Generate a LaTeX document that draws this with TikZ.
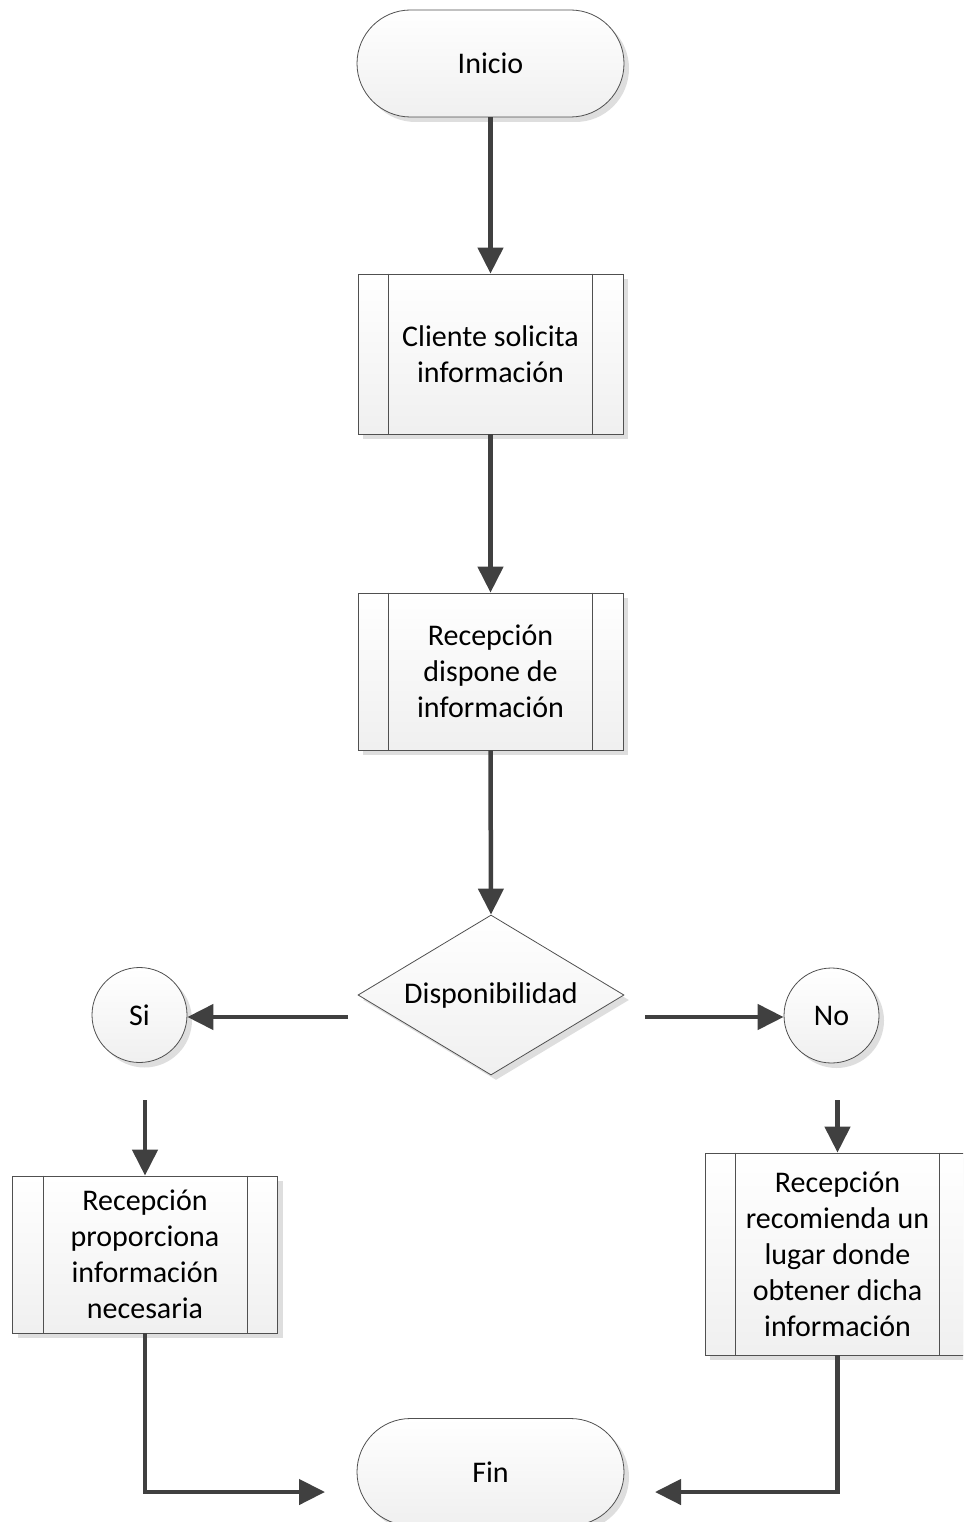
\documentclass[tikz,border=0pt]{standalone}
\usepackage{fontspec}
\setmainfont{Carlito}
\usetikzlibrary{arrows.meta,shapes.geometric,shapes.misc,shadows,calc}
\definecolor{linegray}{HTML}{404040}
\definecolor{edgegray}{HTML}{505050}
\tikzset{
  shapebase/.style={draw=edgegray, line width=0.8pt, top color=white, bottom color=black!6,
    drop shadow={shadow xshift=5pt, shadow yshift=-5pt, fill=black!13, opacity=1},
    font=\fontsize{30}{36}\selectfont, align=center, inner sep=0pt, text=black},
  terminal/.style={shapebase, rounded rectangle, minimum width=267pt, minimum height=107pt},
  procbox/.style={shapebase, rectangle, minimum width=265pt},
  decision/.style={shapebase, diamond, minimum width=266pt, minimum height=160pt, aspect=1.66},
  branch/.style={shapebase, circle, minimum size=95pt},
  bar/.style={draw=edgegray, line width=0.8pt},
  flow/.style={draw=linegray, line width=4.5pt, -{Triangle[length=26pt,width=25pt]}},
}
\begin{document}
\begin{tikzpicture}[x=1pt, y=-1pt]
  \useasboundingbox (0,0) rectangle (963,1522);
  \clip (0,0) rectangle (963,1522);

  % shapes
  \node[terminal] (ini) at (490.5,63.5) {Inicio};
  \node[procbox, minimum height=160pt] (b1) at (490.5,354) {Cliente solicita\\información};
  \node[procbox, minimum height=157pt] (b2) at (490.5,671.5) {Recepción\\dispone de\\información};
  \node[decision] (dec) at (491,995) {Disponibilidad};
  \node[branch] (si) at (139.5,1015) {Si};
  \node[branch] (no) at (831.5,1015.5) {No};
  \node[procbox, minimum height=157pt] (b3) at (145,1254.5) {Recepción\\proporciona\\información\\necesaria};
  \node[procbox, minimum height=202pt] (b4) at (837.5,1254) {Recepción\\recomienda un\\lugar donde\\obtener dicha\\información};
  \node[terminal] (fin) at (490.5,1472) {Fin};

  % side bars of the process boxes
  \foreach \b in {b1,b2,b3,b4}{
    \draw[bar] ($(\b.north west)+(31,0)$) -- ($(\b.south west)+(31,0)$);
    \draw[bar] ($(\b.north east)+(-31,0)$) -- ($(\b.south east)+(-31,0)$);
  }

  % free ends of the connectors
  \coordinate (sstart) at (348,1017);
  \coordinate (nstart) at (645,1017);
  \coordinate (s3) at (145,1100);
  \coordinate (n4) at (837.5,1100);
  \coordinate (fl) at (325,1492);
  \coordinate (fr) at (655,1492);

  % connectors
  \draw[flow] (ini.south) -- (b1.north);
  \draw[flow] (b1.south) -- (b2.north);
  \draw[flow] (b2.south) -- (dec.north);
  \draw[flow] (sstart) -- (sstart -| si.east);
  \draw[flow] (nstart) -- (nstart -| no.west);
  \draw[flow] (s3) -- (b3.north);
  \draw[flow] (n4) -- (b4.north);
  \draw[flow] (b3.south) |- (fl);
  \draw[flow] (b4.south) |- (fr);
\end{tikzpicture}
\end{document}
